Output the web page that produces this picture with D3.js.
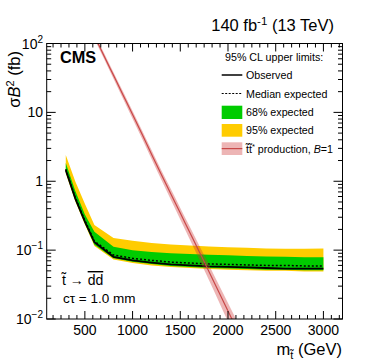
<!DOCTYPE html>
<html><head><meta charset="utf-8">
<script src="https://cdn.jsdelivr.net/npm/d3@7"></script>
<style>
html,body{margin:0;padding:0;background:#fff;}
text{font-family:"Liberation Sans",Arial,Helvetica,sans-serif;fill:#000;}
</style></head>
<body>
<svg id="chart" width="374" height="363"></svg>
<script>
// ---- data ----
const mass      = [300, 400, 500, 600, 800, 1000, 1200, 1400, 1600, 1800, 2000, 2200, 2400, 2600, 2800, 3000];
const observed  = [1.45, 0.56, 0.26, 0.13, 0.080, 0.071, 0.066, 0.062, 0.060, 0.058, 0.057, 0.056, 0.055, 0.054, 0.054, 0.054];
const expected  = [1.50, 0.58, 0.27, 0.135, 0.085, 0.076, 0.071, 0.067, 0.065, 0.063, 0.062, 0.061, 0.060, 0.060, 0.059, 0.059];
const plus1     = [1.84, 0.72, 0.33, 0.185, 0.112, 0.100, 0.094, 0.090, 0.088, 0.086, 0.084, 0.082, 0.081, 0.080, 0.079, 0.079];
const minus1    = [1.36, 0.53, 0.245, 0.120, 0.076, 0.068, 0.063, 0.059, 0.057, 0.055, 0.054, 0.053, 0.052, 0.052, 0.051, 0.051];
const plus2     = [2.40, 0.99, 0.47, 0.232, 0.150, 0.137, 0.127, 0.121, 0.117, 0.113, 0.110, 0.108, 0.106, 0.105, 0.105, 0.106];
const minus2    = [1.30, 0.51, 0.235, 0.115, 0.073, 0.065, 0.060, 0.057, 0.055, 0.053, 0.052, 0.051, 0.050, 0.050, 0.049, 0.049];

const thMass = [500, 600, 700, 800, 900, 1000, 1100, 1200, 1300, 1400, 1500, 1600, 1700, 1800, 1900, 2000, 2100, 2200];
const thXsec = [247, 128, 66.5, 34.5, 17.9, 9.3, 4.8, 2.45, 1.26, 0.66, 0.345, 0.180, 0.094, 0.049, 0.0253, 0.0131, 0.0068, 0.0035];
const thUnc  = [0.08, 0.09, 0.10, 0.11, 0.12, 0.13, 0.14, 0.15, 0.16, 0.18, 0.19, 0.21, 0.23, 0.25, 0.27, 0.30, 0.32, 0.34];

const xMajor = [500, 1000, 1500, 2000, 2500, 3000];
const xMinorStep = 500 / 6;
const yMajor = [0.01, 0.1, 1, 10, 100];
const yMajorLabels = [["10","−2"], ["10","−1"], ["1",""], ["10",""], ["10","2"]];

// ---- layout ----
const svg = d3.select("#chart");
const L = 46.7, R = 342.5, T = 43.5, B = 319;
const x = d3.scaleLinear().domain([100, 3200]).range([L, R]);
const y = d3.scaleLog().domain([0.01, 100]).range([B, T]);

svg.append("defs").append("clipPath").attr("id", "clip")
  .append("rect").attr("x", L).attr("y", T).attr("width", R - L).attr("height", B - T);

const plot = svg.append("g").attr("clip-path", "url(#clip)");

const rows = mass.map((m, i) => ({m, obs: observed[i], exp: expected[i], p1: plus1[i], m1: minus1[i], p2: plus2[i], m2: minus2[i]}));
const th = thMass.map((m, i) => ({m, v: thXsec[i], lo: thXsec[i] * (1 - thUnc[i]), hi: thXsec[i] * (1 + thUnc[i])}));

plot.append("path").datum(rows)
  .attr("d", d3.area().x(d => x(d.m)).y0(d => y(d.m2)).y1(d => y(d.p2)))
  .attr("fill", "#ffcc00");
plot.append("path").datum(rows)
  .attr("d", d3.area().x(d => x(d.m)).y0(d => y(d.m1)).y1(d => y(d.p1)))
  .attr("fill", "#00cc00");
plot.append("path").datum(rows)
  .attr("d", d3.line().x(d => x(d.m)).y(d => y(d.exp)))
  .attr("fill", "none").attr("stroke", "#000").attr("stroke-width", 1.5).attr("stroke-dasharray", "2,2");
plot.append("path").datum(rows)
  .attr("d", d3.line().x(d => x(d.m)).y(d => y(d.obs)))
  .attr("fill", "none").attr("stroke", "#000").attr("stroke-width", 1.8);

plot.append("path").datum(th)
  .attr("d", d3.area().curve(d3.curveMonotoneX).x(d => x(d.m)).y0(d => y(d.lo)).y1(d => y(d.hi)))
  .attr("fill", "#cc3333").attr("fill-opacity", 0.36);
plot.append("path").datum(th)
  .attr("d", d3.line().curve(d3.curveMonotoneX).x(d => x(d.m)).y(d => y(d.v)))
  .attr("fill", "none").attr("stroke", "#c84848").attr("stroke-width", 1.2);

// ---- frame & ticks ----
svg.append("rect").attr("x", L).attr("y", T).attr("width", R - L).attr("height", B - T)
  .attr("fill", "none").attr("stroke", "#000").attr("stroke-width", 1);

const xMinor = d3.range(500 - 4 * xMinorStep, 3200, xMinorStep).filter(v => v > 100 && v < 3200);
const yMinor = [];
for (let e = -2; e < 2; e++) for (let k = 2; k <= 9; k++) yMinor.push(k * Math.pow(10, e));

const tk = svg.append("g").attr("stroke", "#000").attr("stroke-width", 1);
xMinor.forEach(v => {
  const px = x(v), maj = xMajor.some(mv => Math.abs(mv - v) < 1);
  const len = maj ? 8 : 4;
  tk.append("line").attr("x1", px).attr("x2", px).attr("y1", B).attr("y2", B - len);
  tk.append("line").attr("x1", px).attr("x2", px).attr("y1", T).attr("y2", T + len);
});
yMinor.concat(yMajor).forEach(v => {
  const py = y(v), maj = yMajor.includes(v);
  const len = maj ? 9 : 4.5;
  tk.append("line").attr("x1", L).attr("x2", L + len).attr("y1", py).attr("y2", py);
  tk.append("line").attr("x1", R).attr("x2", R - len).attr("y1", py).attr("y2", py);
});

// tick labels
xMajor.forEach(v => {
  svg.append("text").attr("x", x(v)).attr("y", 335).attr("text-anchor", "middle")
    .attr("font-size", 14).text(v);
});
yMajor.forEach((v, i) => {
  const t = svg.append("text").attr("x", 43).attr("y", y(v) + 5).attr("text-anchor", "end").attr("font-size", 14);
  t.append("tspan").text(yMajorLabels[i][0]);
  if (yMajorLabels[i][1]) t.append("tspan").attr("font-size", 10).attr("dy", -6).text(yMajorLabels[i][1]);
});

// axis titles
const xt = svg.append("text").attr("x", 342).attr("y", 355).attr("text-anchor", "end").attr("font-size", 16.5);
xt.append("tspan").text("m");
xt.append("tspan").attr("font-size", 11).attr("dy", 4).text("t\u0303");
xt.append("tspan").attr("dy", -4).text(" (GeV)");

const yt = svg.append("text").attr("transform", "translate(20,51) rotate(-90)").attr("text-anchor", "end").attr("font-size", 16.5);
yt.append("tspan").text("σ");
yt.append("tspan").attr("font-style", "italic").text("B");
yt.append("tspan").attr("font-size", 11).attr("dy", -6).text("2");
yt.append("tspan").attr("dy", 6).text(" (fb)");

// header
const hd = svg.append("text").attr("x", 334).attr("y", 30.5).attr("text-anchor", "end").attr("font-size", 16.5);
hd.append("tspan").text("140 fb");
hd.append("tspan").attr("font-size", 11.5).attr("dy", -6).text("-1");
hd.append("tspan").attr("dy", 6).text(" (13 TeV)");

svg.append("text").attr("x", 60).attr("y", 63).attr("font-size", 16.3).attr("font-weight", "bold").text("CMS");

// annotations
const a1 = svg.append("text").attr("x", 62).attr("y", 285).attr("font-size", 14);
a1.append("tspan").text("t\u0303 → ");
a1.append("tspan").attr("text-decoration", "overline").text("dd");
svg.append("text").attr("x", 63).attr("y", 302.5).attr("font-size", 13.5).text("cτ = 1.0 mm");

// legend
const lg = svg.append("g").attr("font-size", 10.7);
lg.append("text").attr("x", 225).attr("y", 61).text("95% CL upper limits:");
const bx0 = 221.7, bx1 = 242.3, tx = 246;
lg.append("line").attr("x1", bx0).attr("x2", bx1).attr("y1", 75).attr("y2", 75).attr("stroke", "#000").attr("stroke-width", 1.5);
lg.append("text").attr("x", tx).attr("y", 79).text("Observed");
lg.append("line").attr("x1", bx0).attr("x2", bx1).attr("y1", 93.5).attr("y2", 93.5).attr("stroke", "#000").attr("stroke-width", 1.2).attr("stroke-dasharray", "2,1.5");
lg.append("text").attr("x", tx).attr("y", 97.5).text("Median expected");
lg.append("rect").attr("x", bx0).attr("y", 105.7).attr("width", bx1 - bx0).attr("height", 13.3).attr("fill", "#00cc00");
lg.append("text").attr("x", tx).attr("y", 116).text("68% expected");
lg.append("rect").attr("x", bx0).attr("y", 124).attr("width", bx1 - bx0).attr("height", 12.7).attr("fill", "#ffcc00");
lg.append("text").attr("x", tx).attr("y", 134.3).text("95% expected");
lg.append("rect").attr("x", bx0).attr("y", 142.3).attr("width", bx1 - bx0).attr("height", 12.7).attr("fill", "#cc3333").attr("fill-opacity", 0.36);
lg.append("line").attr("x1", bx0).attr("x2", bx1).attr("y1", 148.6).attr("y2", 148.6).attr("stroke", "#c84848").attr("stroke-width", 1.2);
const lt = lg.append("text").attr("x", tx).attr("y", 152.7);
lt.append("tspan").text("t\u0303t\u0303");
lt.append("tspan").attr("font-size", 7.5).attr("dy", -4).text("*");
lt.append("tspan").attr("dy", 4).text(" production, ");
lt.append("tspan").attr("font-style", "italic").text("B");
lt.append("tspan").text("=1");
</script>
</body></html>
